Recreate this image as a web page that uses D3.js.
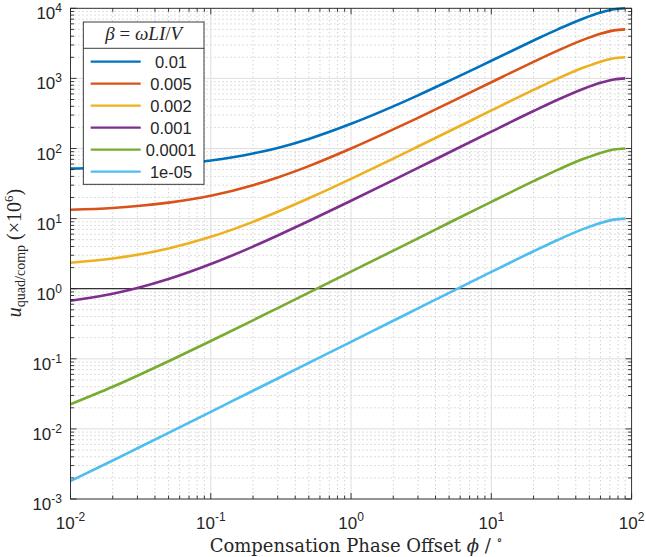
<!DOCTYPE html>
<html>
<head>
<meta charset="utf-8">
<script src="https://cdn.jsdelivr.net/npm/d3@7"></script>
<style>
body { margin:0; background:#fff; }
svg { display:block; }
text { font-family: "Liberation Sans", Arial, sans-serif; fill:#262626; }
.serif { font-family: "Liberation Serif", "Times New Roman", serif; }
.serif2 { font-family: "DejaVu Serif", "Liberation Serif", serif; }
</style>
</head>
<body>
<svg id="chart" width="646" height="557"></svg>
<script>
// phase offset (degrees) sample points
var phi = [0.01,0.02,0.03,0.05,0.1,0.2,0.3,0.5,1,2,3,5,10,20,30,45,60,75,90];

// u_quad/comp (x1e6), one array per beta
var u_0_01   = [51.7,53.5,55.2,58.7,67.5,84.9,102,137,225,399,573,922,1786,3470,5050,7110,8690,9710,10000];
var u_0_005  = [13.4,14.2,15.1,16.9,21.2,30.0,38.7,56.1,99.8,187,274,448,881,1723,2512,3548,4342,4842,5000];
var u_0_002  = [2.35,2.70,3.05,3.75,5.49,8.98,12.5,19.5,36.9,71.8,106.7,176,349,686,1002,1416,1734,1934,2000];
var u_0_001  = [0.675,0.849,1.024,1.373,2.245,3.99,5.74,9.23,17.95,35.4,52.8,87.7,174.1,342.5,500.5,707.6,866.5,966.4,1000];
var u_0_0001 = [0.0225,0.0399,0.0574,0.0923,0.1795,0.354,0.529,0.878,1.75,3.49,5.23,8.72,17.36,34.2,50,70.7,86.6,96.6,100];
var u_1e_05  = [0.0018,0.00354,0.00529,0.00878,0.0175,0.0350,0.0524,0.0873,0.1745,0.349,0.523,0.872,1.736,3.42,5.0,7.07,8.66,9.66,10];

var series = [u_0_01,u_0_005,u_0_002,u_0_001,u_0_0001,u_1e_05];
var betaNames = ["0.01","0.005","0.002","0.001","0.0001","1e-05"];
var colors = ["#0072BD","#D95319","#EDB120","#7E2F8E","#77AC30","#4DBEEE"];

var xTicks = [0.01,0.1,1,10,100];
var xTickExp = ["-2","-1","0","1","2"];
var yTicks = [1e-3,1e-2,1e-1,1,10,100,1000,10000];
var yTickExp = ["-3","-2","-1","0","1","2","3","4"];

var L = 70.5, R = 631.6, T = 8.3, B = 499;
var svg = d3.select("#chart");
var x = d3.scaleLog().domain([0.01,100]).range([L,R]);
var y = d3.scaleLog().domain([1e-3,1e4]).range([B,T]);

// minor values
var minorX = [], minorY = [];
for (var e = -2; e < 2; e++) for (var m = 2; m <= 9; m++) minorX.push(m * Math.pow(10,e));
for (var e = -3; e < 4; e++) for (var m = 2; m <= 9; m++) minorY.push(m * Math.pow(10,e));

var grid = svg.append("g");
grid.selectAll("line.mx").data(minorX).enter().append("line")
    .attr("x1", function(d){return x(d);}).attr("x2", function(d){return x(d);})
    .attr("y1", T).attr("y2", B)
    .attr("stroke","#bdbdbd").attr("stroke-width",1).attr("stroke-dasharray","1,3");
grid.selectAll("line.my").data(minorY).enter().append("line")
    .attr("y1", function(d){return y(d);}).attr("y2", function(d){return y(d);})
    .attr("x1", L).attr("x2", R)
    .attr("stroke","#bdbdbd").attr("stroke-width",1).attr("stroke-dasharray","1,3");
grid.selectAll("line.gx").data(xTicks).enter().append("line")
    .attr("x1", function(d){return x(d);}).attr("x2", function(d){return x(d);})
    .attr("y1", T).attr("y2", B)
    .attr("stroke","#dedede").attr("stroke-width",1);
grid.selectAll("line.gy").data(yTicks).enter().append("line")
    .attr("y1", function(d){return y(d);}).attr("y2", function(d){return y(d);})
    .attr("x1", L).attr("x2", R)
    .attr("stroke","#dedede").attr("stroke-width",1);

// reference line at 1
svg.append("line").attr("x1",L).attr("x2",R).attr("y1",y(1)).attr("y2",y(1))
    .attr("stroke","#333").attr("stroke-width",1.2);

// curves
var line = d3.line().x(function(d,i){return x(phi[i]);}).y(function(d){return y(d);})
    .curve(d3.curveMonotoneX);
svg.append("g").selectAll("path").data(series).enter().append("path")
    .attr("d", line).attr("fill","none")
    .attr("stroke", function(d,i){return colors[i];})
    .attr("stroke-width",2.6);

// axes box with inward ticks
var ax = svg.append("g").attr("stroke","#262626").attr("stroke-width",0.9);
ax.append("rect").attr("x",L).attr("y",T).attr("width",R-L).attr("height",B-T).attr("fill","none");
var tk = function(data, len){
    data.forEach(function(d){
        ax.append("line").attr("x1",x(d)).attr("x2",x(d)).attr("y1",B).attr("y2",B-len);
        ax.append("line").attr("x1",x(d)).attr("x2",x(d)).attr("y1",T).attr("y2",T+len);
    });
};
var tky = function(data, len){
    data.forEach(function(d){
        ax.append("line").attr("y1",y(d)).attr("y2",y(d)).attr("x1",L).attr("x2",L+len);
        ax.append("line").attr("y1",y(d)).attr("y2",y(d)).attr("x1",R).attr("x2",R-len);
    });
};
tk(xTicks,6); tk(minorX,3.5); tky(yTicks,6); tky(minorY,3.5);

// tick labels
var xl = svg.append("g").selectAll("text").data(xTicks).enter().append("text")
    .attr("x", function(d){return x(d);}).attr("y", 529)
    .attr("text-anchor","middle").attr("font-size","17px");
xl.append("tspan").text("10");
xl.append("tspan").attr("dy",-8).attr("font-size","12px").text(function(d,i){return xTickExp[i];});

var yl = svg.append("g").selectAll("text").data(yTicks).enter().append("text")
    .attr("x", 62).attr("y", function(d){return y(d) + 11;})
    .attr("text-anchor","end").attr("font-size","17px");
yl.append("tspan").text("10");
yl.append("tspan").attr("dy",-7).attr("font-size","12px").text(function(d,i){return yTickExp[i];});

// axis labels
var xlab = svg.append("text").attr("class","serif2").attr("x",356).attr("y",552)
    .attr("text-anchor","middle").attr("font-size","18px");
xlab.append("tspan").text("Compensation Phase Offset ");
xlab.append("tspan").attr("font-style","italic").text("\u03d5");
xlab.append("tspan").text(" / ");
xlab.append("tspan").attr("dy",-8).attr("font-size","12px").text("\u2218");

var ylab = svg.append("text").attr("class","serif")
    .attr("transform","translate(21,253) rotate(-90)")
    .attr("text-anchor","middle").attr("font-size","20px");
ylab.append("tspan").attr("font-style","italic").text("u");
ylab.append("tspan").attr("dy",4).attr("font-size","14px").text("quad/comp");
ylab.append("tspan").attr("dy",-4).text("  (\u00d710");
ylab.append("tspan").attr("dy",-8).attr("font-size","13px").text("6");
ylab.append("tspan").attr("dy",8).text(")");

// legend
var lg = svg.append("g");
lg.append("rect").attr("x",83.3).attr("y",22).attr("width",120.7).attr("height",162.3)
    .attr("fill","#fff").attr("stroke","#262626").attr("stroke-width",0.9);
lg.append("line").attr("x1",83.3).attr("x2",204).attr("y1",48.3).attr("y2",48.3)
    .attr("stroke","#262626").attr("stroke-width",0.9);
var lt = lg.append("text").attr("class","serif").attr("x",143.7).attr("y",40)
    .attr("text-anchor","middle").attr("font-size","19px");
lt.append("tspan").attr("font-style","italic").text("\u03b2");
lt.append("tspan").text(" = ");
lt.append("tspan").attr("font-style","italic").text("\u03c9LI");
lt.append("tspan").text("/");
lt.append("tspan").attr("font-style","italic").text("V");

var ent = lg.selectAll("g.ent").data(betaNames).enter().append("g")
    .attr("transform", function(d,i){return "translate(0," + (61.7 + i*22) + ")";});
ent.append("line").attr("x1",90.7).attr("x2",140.7)
    .attr("stroke", function(d,i){return colors[i];}).attr("stroke-width",2.2);
ent.append("text").attr("x",171).attr("y",6).attr("text-anchor","middle")
    .attr("font-size","16.5px").attr("fill","#000").text(function(d){return d;});
</script>
</body>
</html>
